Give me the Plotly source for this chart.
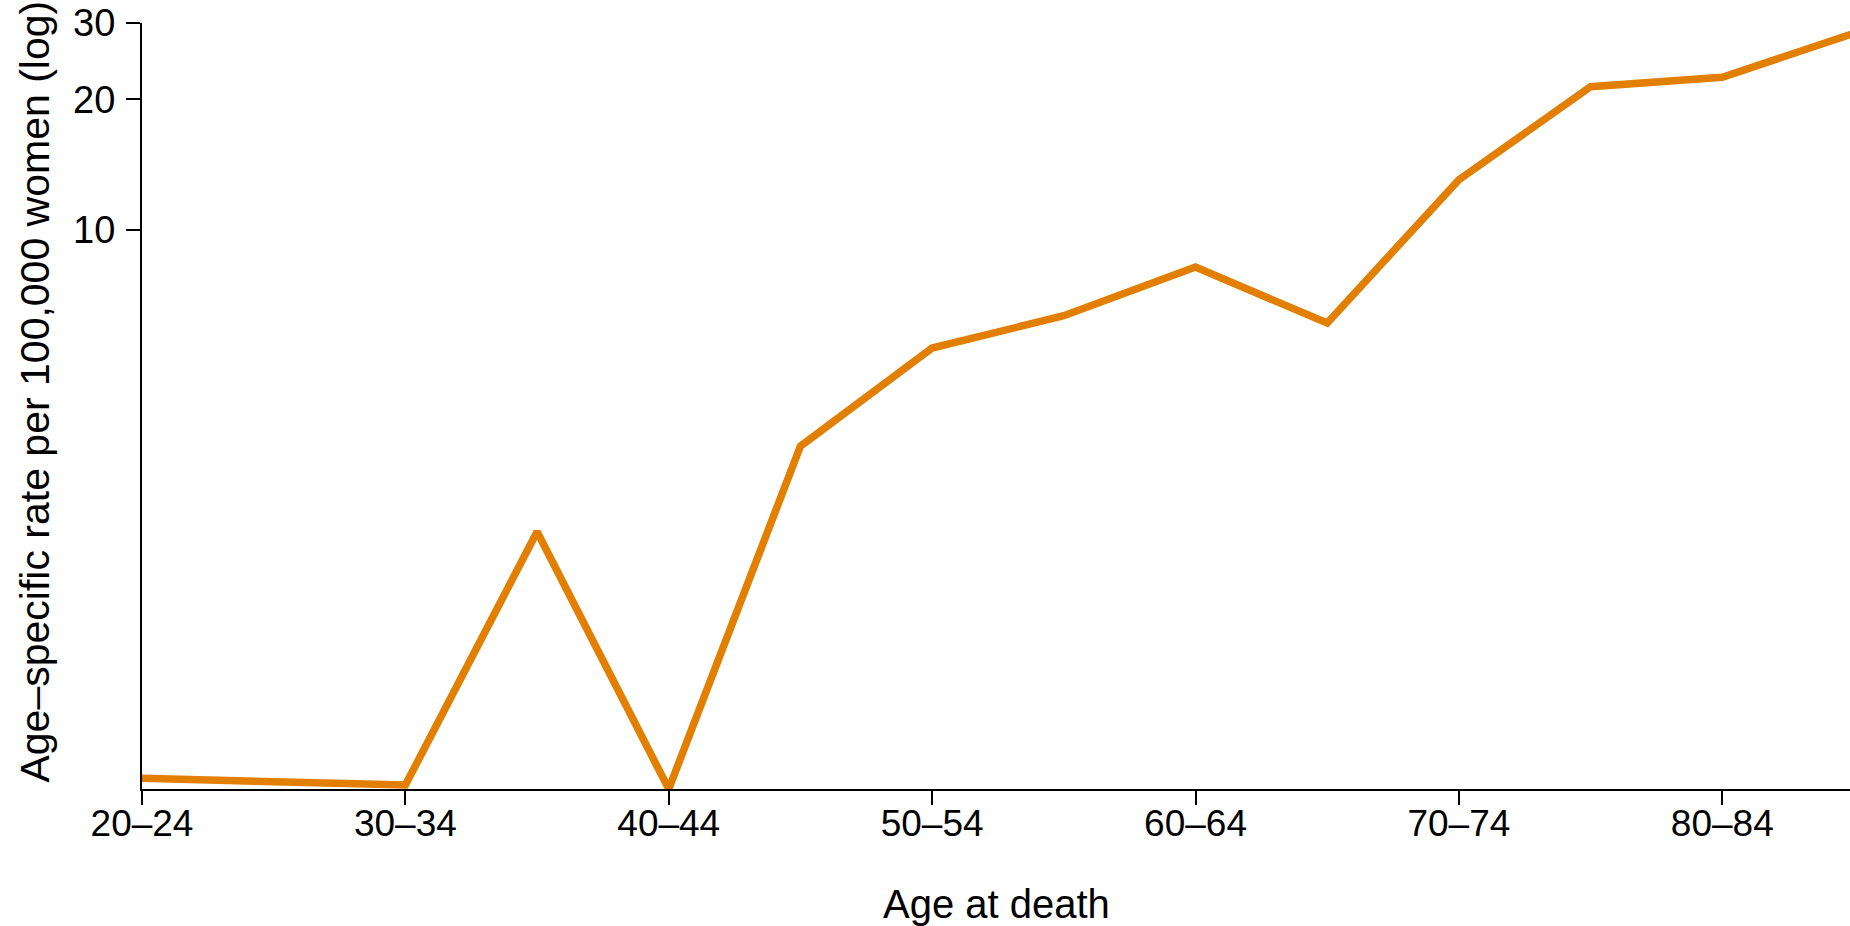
"""Age-specific rate by age at death (log scale)."""

import math

import plotly.graph_objects as go

# Data
age_groups = [
    "20\u201324", "25\u201329", "30\u201334", "35\u201339", "40\u201344",
    "45\u201349", "50\u201354", "55\u201359", "60\u201364", "65\u201369",
    "70\u201374", "75\u201379", "80\u201384", "85+",
]
rates = [0.546, 0.536, 0.527, 2.02, 0.516, 3.18, 5.35, 6.35, 8.22, 6.11, 13.06, 21.4, 22.5, 28.4]

x_tick_labels = age_groups[0:13:2]
y_tick_values = [10, 20, 30]

font_family = "Liberation Sans, Arial, sans-serif"
line_color = "#E27F00"

fig = go.Figure()

fig.add_trace(
    go.Scatter(
        x=age_groups,
        y=rates,
        mode="lines",
        line=dict(color=line_color, width=7.5),
        showlegend=False,
    )
)

fig.update_layout(
    width=1850,
    height=926,
    margin=dict(l=142, r=0, t=23, b=137),
    paper_bgcolor="white",
    plot_bgcolor="white",
    font=dict(family=font_family, color="black"),
    xaxis=dict(
        type="category",
        categoryorder="array",
        categoryarray=age_groups,
        range=[0, 12.97],
        tickmode="array",
        tickvals=x_tick_labels,
        ticktext=x_tick_labels,
        ticks="outside",
        ticklen=14,
        tickwidth=2,
        tickcolor="black",
        ticklabelstandoff=-13,
        showline=True,
        linecolor="black",
        linewidth=2,
        showgrid=False,
        zeroline=False,
        tickfont=dict(size=37),
    ),
    yaxis=dict(
        type="log",
        range=[math.log10(min(rates)), math.log10(30)],
        tickmode="array",
        tickvals=y_tick_values,
        ticktext=[str(v) for v in y_tick_values],
        ticks="outside",
        ticklen=14,
        tickwidth=2,
        tickcolor="black",
        ticklabelstandoff=3,
        showline=True,
        linecolor="black",
        linewidth=2,
        showgrid=False,
        zeroline=False,
        tickfont=dict(size=38),
    ),
    annotations=[
        dict(
            text="Age at death",
            xref="paper",
            yref="paper",
            x=0.5,
            y=-0.15,
            xanchor="center",
            yanchor="middle",
            showarrow=False,
            font=dict(size=40),
        ),
        dict(
            text="Age\u2013specific rate per 100,000 women (log)",
            xref="paper",
            yref="paper",
            x=-0.0626,
            y=0.519,
            xanchor="center",
            yanchor="middle",
            textangle=-90,
            showarrow=False,
            font=dict(size=41),
        ),
    ],
)

# Drop the default page margin so the figure sits at the window's corner
fig.write_html(
    "out.html",
    config={"displayModeBar": False},
    post_script="document.body.style.margin = '0';",
)
